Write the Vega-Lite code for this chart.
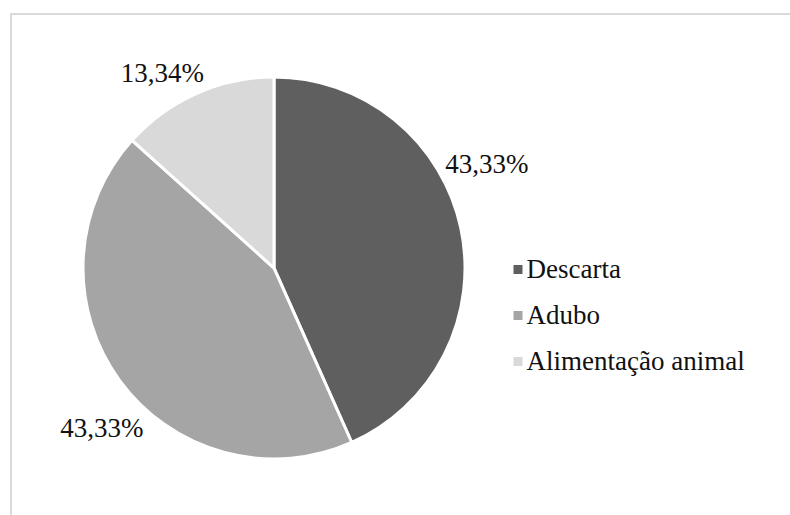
{
  "$schema": "https://vega.github.io/schema/vega-lite/v6.json",
  "width": 783,
  "height": 503,
  "autosize": "none",
  "padding": {"left": 11, "top": 14, "right": 0, "bottom": 0},
  "background": "white",
  "config": {
    "view": {"stroke": "#d9d9d9", "strokeWidth": 2},
    "font": "Liberation Serif"
  },
  "data": {
    "values": [
      {"cat": "Descarta", "pct": 43.33, "label": "43,33%", "ord": 1},
      {"cat": "Adubo", "pct": 43.33, "label": "43,33%", "ord": 2},
      {"cat": "Alimentação animal", "pct": 13.34, "label": "13,34%", "ord": 3}
    ]
  },
  "layer": [
    {
      "mark": {"type": "point", "opacity": 0},
      "encoding": {
        "x": {"field": "pct", "type": "quantitative", "axis": null},
        "y": {"field": "ord", "type": "quantitative", "axis": null}
      }
    },
    {
      "mark": {
        "type": "arc",
        "outerRadius": 191,
        "stroke": "white",
        "strokeWidth": 3,
        "x": {"expr": "width*0.3359"},
        "y": {"expr": "height*0.505"}
      },
      "encoding": {
        "theta": {"field": "pct", "type": "quantitative", "stack": true},
        "order": {"field": "ord", "type": "quantitative"},
        "color": {
          "field": "cat",
          "type": "nominal",
          "scale": {
            "domain": ["Descarta", "Adubo", "Alimentação animal"],
            "range": ["#5f5f5f", "#a5a5a5", "#d9d9d9"]
          },
          "legend": {
            "title": null,
            "orient": "none",
            "legendX": 493.5,
            "legendY": 242,
            "padding": 0,
            "symbolType": "square",
            "symbolSize": 81,
            "symbolStrokeWidth": 0,
            "labelFont": "Liberation Serif",
            "labelFontSize": 27,
            "labelColor": "#111111",
            "labelOffset": -5,
            "labelLimit": 400,
            "rowPadding": 18,
            "encode": {
              "labels": {
                "update": {
                  "dx": {"signal": "datum.value === 'Descarta' ? 6 : 0"}
                }
              }
            }
          }
        }
      }
    },
    {
      "mark": {
        "type": "text",
        "radius": 230,
        "font": "Liberation Serif",
        "fontSize": 27,
        "color": "#111111",
        "align": "center",
        "baseline": "middle",
        "x": {"expr": "width*0.3359"},
        "y": {"expr": "height*0.505"},
        "dx": {"expr": "datum.cat == 'Descarta' ? -12 : datum.cat == 'Adubo' ? 14 : -18"},
        "dy": {"expr": "datum.cat == 'Descarta' ? -55 : datum.cat == 'Adubo' ? 26 : 16"}
      },
      "encoding": {
        "theta": {"field": "pct", "type": "quantitative", "stack": true},
        "order": {"field": "ord", "type": "quantitative"},
        "text": {"field": "label", "type": "nominal"}
      }
    }
  ]
}
